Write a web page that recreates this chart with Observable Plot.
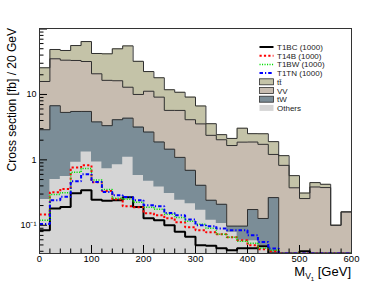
<!DOCTYPE html>
<html><head><meta charset="utf-8">
<script src="https://cdn.jsdelivr.net/npm/d3@7"></script>
<script src="https://cdn.jsdelivr.net/npm/@observablehq/plot@0.6"></script>
<style>
body{margin:0;background:#fff;}
#wrap{position:relative;width:390px;height:282px;}
</style></head><body><div id="wrap"></div>
<script>
// ---- data, 20 GeV bins ----
const binLow = [0,20,40,60,80,100,120,140,160,180,200,220,240,260,280,300,320,340,360,380,400,420,440,460,480,500,520,540,560,580];
const xMax = 600;
const others = [0.247,0.499,0.555,0.916,1.32,0.925,0.734,0.839,1.10,0.579,0.470,0.385,0.305,0.241,0.214,0.169,0.119,0.106,0.078,0.059,0.058,0.048,0,0,0,0,0,0,0,0];
const tW     = [2.64,6.22,4.76,4.58,4.18,2.88,2.60,3.27,3.24,2.59,2.19,1.49,1.15,0.85,0.477,0.239,0.122,0.103,0.019,0.038,0.116,0.079,0.265,0,0,0,0,0,0,0];
const VV     = [12.9,28.4,28.1,27.6,26.4,16.9,13.1,12.1,8.56,6.83,8.54,7.23,4.25,4.61,3.42,3.14,2.13,1.82,1.56,1.77,1.70,1.60,0.945,0.824,0.374,0.256,0.385,0.377,0.100,0.160];
const ttbar  = [9.8,13.6,13.6,22.9,32.5,21.6,25.4,33.7,42.4,22.1,11.2,8.9,6.1,5.1,5.0,3.12,1.20,0.40,0.47,1.18,0.64,0.78,0.69,0.336,0.200,0.055,0.064,0.046,0,0];
const T1BC = [0.0839,0.180,0.191,0.310,0.342,0.245,0.238,0.241,0.267,0.191,0.128,0.119,0.100,0.0796,0.0668,0.0495,0.0487,0.0446,0.0415,0.0446,0.0446,0.0478,0,0,0,0.040,0,0,0,0];
const T14B = [0.146,0.321,0.358,0.767,0.824,0.453,0.334,0.250,0.195,0.188,0.153,0.142,0.128,0.111,0.0932,0.0839,0.0782,0.0729,0.0656,0.0590,0.0495,0.0430,0.0401,0,0,0,0,0,0,0];
const T1BW = [0.119,0.295,0.313,0.644,0.741,0.492,0.352,0.258,0.250,0.224,0.188,0.175,0.147,0.132,0.115,0.104,0.0899,0.0729,0.0656,0.0570,0.0531,0.0446,0.0415,0,0,0,0,0,0,0];
const T1TN = [0.105,0.241,0.274,0.470,0.601,0.458,0.322,0.287,0.270,0.241,0.202,0.195,0.154,0.142,0.122,0.100,0.0966,0.0891,0.0839,0.0839,0.0703,0.0556,0.0441,0,0,0,0,0,0,0];

const yMajor = [0.1, 1, 10, 100];
const yMinor = [0.04,0.05,0.06,0.07,0.08,0.09,0.2,0.3,0.4,0.5,0.6,0.7,0.8,0.9,2,3,4,5,6,7,8,9,20,30,40,50,60,70,80,90];
const yLabels = {0.1: "10\u207B\u00B9", 1: "1", 10: "10"};
const xMajor = [0,100,200,300,400,500,600];
const xMinor = [20,40,60,80,120,140,160,180,220,240,260,280,320,340,360,380,420,440,460,480,520,540,560,580];

const legendNames = ["T1BC (1000)","T14B (1000)","T1BW (1000)","T1TN (1000)","tt\u0304","VV","tW","Others"];

// ---- styles ----
const col = {tt: "#c4c3a8", VV: "#c7bcb0", tW: "#7b8d97", Others: "#d5d5d5"};
const outline = "#303030";
const sig = [
  {name: legendNames[0], vals: T1BC, stroke: "#000000", w: 2, dash: "none"},
  {name: legendNames[1], vals: T14B, stroke: "#ff0000", w: 2, dash: "2.2,2.2"},
  {name: legendNames[2], vals: T1BW, stroke: "#00e000", w: 1.5, dash: "1.1,1.4"},
  {name: legendNames[3], vals: T1TN, stroke: "#0000ff", w: 2, dash: "3.5,2,1.2,2"}
];

const W = 390, H = 282, mL = 39, mR = 39, mT = 28, mB = 29;
const yMin = 0.037, yMax = 102;

const cumOthers = others.slice();
const cumTW = cumOthers.map((v,i)=>v+tW[i]);
const cumVV = cumTW.map((v,i)=>v+VV[i]);
const cumTT = cumVV.map((v,i)=>v+ttbar[i]);

function steps(vals){
  const pts = binLow.map((x,i)=>({x, y: Math.max(vals[i], yMin)}));
  pts.push({x: xMax, y: Math.max(vals[vals.length-1], yMin)});
  return pts;
}

const layers = [
  {vals: cumTT, fill: col.tt, line: true},
  {vals: cumVV, fill: col.VV, line: true},
  {vals: cumTW, fill: col.tW, line: true},
  {vals: cumOthers, fill: col.Others, line: false}
];

const marks = [];
for (const L of layers) {
  marks.push(Plot.areaY(steps(L.vals), {x: "x", y1: () => yMin, y2: "y", curve: "step-after", fill: L.fill, clip: true}));
}
for (const L of layers) {
  if (L.line) marks.push(Plot.line(steps(L.vals), {x: "x", y: "y", curve: "step-after", stroke: outline, strokeWidth: 1, strokeLinecap: "butt", strokeLinejoin: "miter", clip: true}));
}
for (const s of sig) {
  marks.push(Plot.line(steps(s.vals), {x: "x", y: "y", curve: "step-after", stroke: s.stroke, strokeWidth: s.w, strokeDasharray: s.dash, strokeLinecap: "butt", strokeLinejoin: "miter", clip: true}));
}
const innerW = W - mL - mR, innerH = H - mT - mB;
marks.push(
  Plot.tickY(yMajor.filter(d => d < yMax), {y: d => d, stroke: "#000", strokeWidth: 1, insetRight: innerW - 8}),
  Plot.tickY(yMinor, {y: d => d, stroke: "#000", strokeWidth: 1, insetRight: innerW - 4.5}),
  Plot.tickX(xMajor, {x: d => d, stroke: "#000", strokeWidth: 1, insetTop: innerH - 8}),
  Plot.tickX(xMinor, {x: d => d, stroke: "#000", strokeWidth: 1, insetTop: innerH - 4.5}),
  Plot.axisY({ticks: [0.1, 1, 10], tickFormat: d => yLabels[d], tickSize: 0, tickPadding: 3, fontSize: 9, label: null}),
  Plot.axisX({ticks: xMajor, tickFormat: d => String(d), tickSize: 0, tickPadding: 1.5, fontSize: 9.5, label: null}),
  Plot.frame({stroke: "#333", strokeWidth: 1})
);

const svg = Plot.plot({
  width: W, height: H,
  marginLeft: mL, marginRight: mR, marginTop: mT, marginBottom: mB,
  style: {fontFamily: "'Liberation Sans', Arial, sans-serif", background: "#fff", color: "#000"},
  x: {domain: [0, xMax]},
  y: {type: "log", domain: [yMin, yMax]},
  marks
});
document.getElementById("wrap").appendChild(svg);

// ---- titles & legend ----
const g = d3.select(svg).append("g").attr("font-family", "'Liberation Sans', Arial, sans-serif").attr("fill", "#000").attr("text-anchor", "start");
// y title
g.append("text").attr("transform", `translate(15.5,${mT}) rotate(-90)`).attr("text-anchor", "end")
  .attr("font-size", 12).text("Cross section [fb] / 20 GeV");
// x title with subscripts
const xt = g.append("text").attr("x", W - mR).attr("y", 275.5).attr("text-anchor", "end").attr("font-size", 13);
xt.append("tspan").text("M");
xt.append("tspan").attr("font-size", 8.5).attr("dy", 3).text("V");
xt.append("tspan").attr("font-size", 6).attr("dy", 2).text("1");
xt.append("tspan").attr("dy", -5).text(" [GeV]");

// legend
const lx = 259.5, ly0 = 47, dyL = 8.7;
const lg = g.append("g").attr("font-size", 8).attr("text-anchor", "start");
sig.forEach((s, i) => {
  const y = ly0 + i * dyL;
  lg.append("line").attr("x1", lx).attr("x2", lx + 14).attr("y1", y).attr("y2", y)
    .attr("stroke", s.stroke).attr("stroke-width", s.w).attr("stroke-dasharray", s.dash);
  lg.append("text").attr("x", lx + 17.5).attr("y", y + 3).attr("fill", "#222").text(s.name);
});
const boxes = [
  {name: legendNames[4], fill: col.tt, stroke: outline},
  {name: legendNames[5], fill: col.VV, stroke: outline},
  {name: legendNames[6], fill: col.tW, stroke: outline},
  {name: legendNames[7], fill: col.Others, stroke: "none"}
];
boxes.forEach((b, j) => {
  const y = ly0 + (j + 4) * dyL;
  lg.append("rect").attr("x", lx).attr("y", y - 3).attr("width", 14).attr("height", 6)
    .attr("fill", b.fill).attr("stroke", b.stroke).attr("stroke-width", 0.8);
  lg.append("text").attr("x", lx + 17.5).attr("y", y + 3).attr("fill", "#222").text(b.name);
});
</script>
</body></html>
